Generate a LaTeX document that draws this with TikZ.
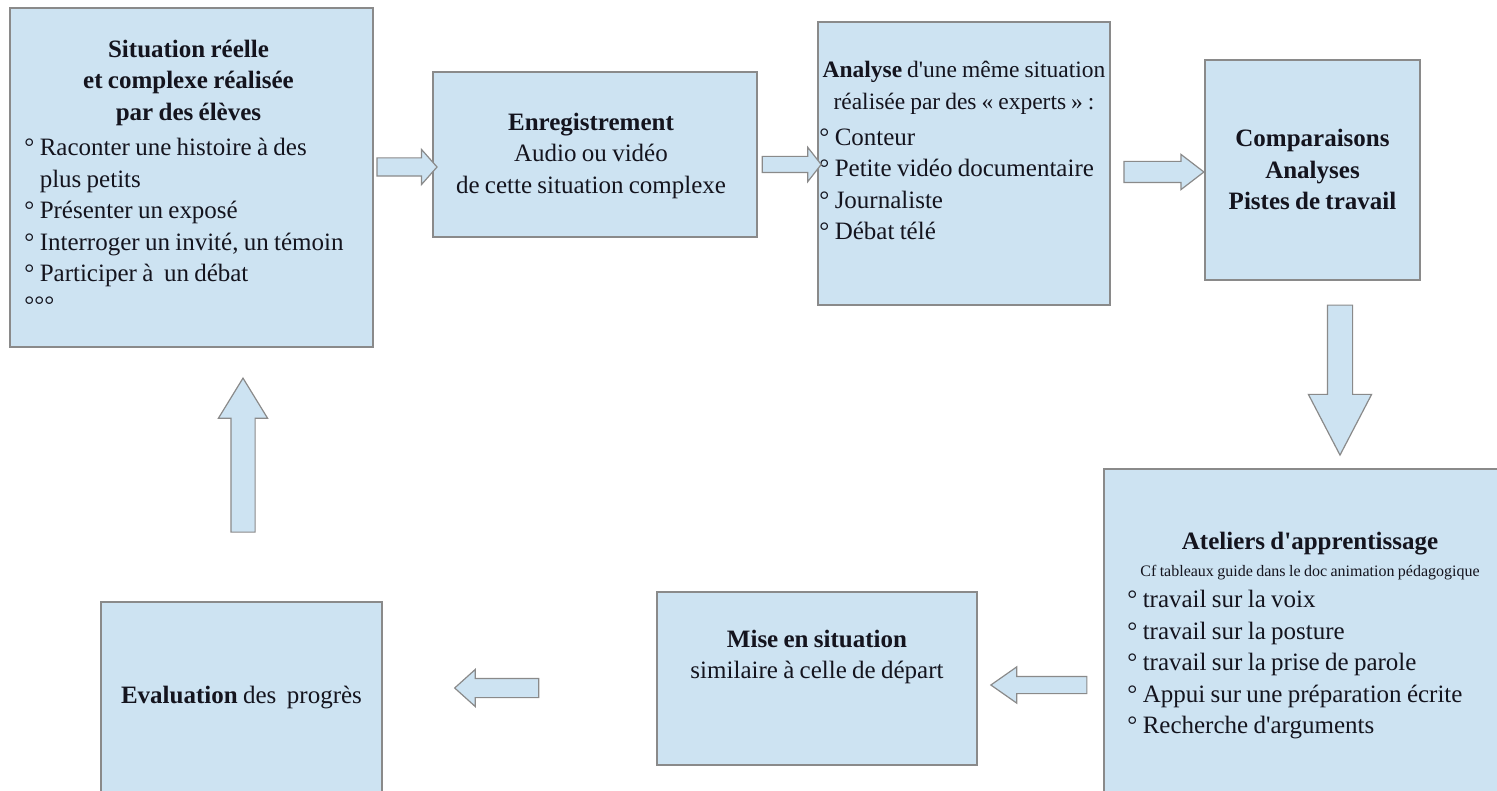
\documentclass[tikz,border=0pt]{standalone}
\usepackage{fontspec}
\setmainfont{Liberation Serif}[Ligatures=TeXOff, WordSpace=0.85]
\usetikzlibrary{positioning,shapes.arrows}

\definecolor{boxblue}{RGB}{205,227,242}
\definecolor{boxline}{RGB}{138,138,138}
\definecolor{inkdark}{RGB}{20,20,30}

\tikzset{
  stage/.style={draw=boxline, fill=boxblue, line width=1.5pt, inner sep=0pt},
  stagetext/.style={inner sep=0pt, text=inkdark, font=\fontsize{25}{31.5}\selectfont},
  blockarrow/.style={single arrow, draw=boxline, fill=boxblue, line width=1.2pt, inner xsep=0pt},
}

\begin{document}
\begin{tikzpicture}[x=1pt, y=-1pt]
    \useasboundingbox (0,0) rectangle (1497,791);
    \clip (0,0) rectangle (1497,791);

    % Top row of boxes
    \node[stage, minimum width=363pt, minimum height=339pt] (sit) at (191.5,177.5) {};
    \node[stage, minimum width=324pt, minimum height=165pt] (enr) at (595,154.5) {};
    \node[stage, minimum width=292pt, minimum height=283pt] (ana) at (964,163.5) {};
    \node[stage, minimum width=215pt, minimum height=220pt] (comp) at (1312.5,170) {};

    % Bottom row of boxes (some run off the page)
    \node[stage, minimum width=412pt, minimum height=360pt] (ate) at (1310,649) {};
    \node[stage, minimum width=320pt, minimum height=173pt] (mise) at (817,678.5) {};
    \node[stage, minimum width=281pt, minimum height=240pt] (eval) at (241.5,722) {};

    % Titles and lists
    \node[stagetext, align=center, below=32.5pt of sit.north, xshift=-3pt] (sit-title)
        {\textbf{Situation réelle}\\ \textbf{et complexe réalisée}\\ \textbf{par des élèves}};
    \node[stagetext, align=left, below right=131pt and 15pt of sit.north west] (sit-list)
        {° Raconter une histoire à des\\
         \phantom{°} plus petits\\
         ° Présenter un exposé\\
         ° Interroger un invité, un témoin\\
         ° Participer à~ un débat\\
         °°°};
    \node[stagetext, align=center, below=41.5pt of enr.north, xshift=-4pt] (enr-t)
        {\textbf{Enregistrement}\\ Audio ou vidéo\\ de cette situation complexe};
    \node[stagetext, align=center, font=\fontsize{23.5}{31.5}\selectfont, below=40pt of ana.north] (ana-title)
        {\textbf{Analyse} d'une même situation\\ réalisée par des « experts » :};
    \node[stagetext, align=left, below right=107pt and 2pt of ana.north west] (ana-list)
        {° Conteur\\
         ° Petite vidéo documentaire\\
         ° Journaliste\\
         ° Débat télé};
    \node[stagetext, align=center, below=70pt of comp.north] (comp-t)
        {\textbf{Comparaisons}\\ \textbf{Analyses}\\ \textbf{Pistes de travail}};
    \node[stagetext, align=center, below=64pt of ate.north] (ate-title)
        {\textbf{Ateliers d'apprentissage}\\[-4.5pt]
         {\fontsize{16}{20}\selectfont Cf tableaux guide dans le doc animation pédagogique}};
    \node[stagetext, align=left, below right=122pt and 24pt of ate.north west] (ate-list)
        {° travail sur la voix\\
         ° travail sur la posture\\
         ° travail sur la prise de parole\\
         ° Appui sur une préparation écrite\\
         ° Recherche d'arguments};
    \node[stagetext, align=center, below=38.5pt of mise.north] (mise-t)
        {\textbf{Mise en situation}\\ similaire à celle de départ};
    \node[stagetext, below=84.5pt of eval.north] (eval-t) {\textbf{Evaluation} des~ progrès};

    % Block arrows between the boxes
    \node[blockarrow, minimum height=60pt, minimum width=34pt, inner ysep=8.5pt,
        single arrow head extend=8.5pt, single arrow tip angle=97] (sit-enr) at (403,167) {};
    \node[blockarrow, minimum height=59pt, minimum width=33pt, inner ysep=7.5pt,
        single arrow head extend=9pt, single arrow tip angle=104] (enr-ana) at (788.5,164.5) {};
    \node[blockarrow, minimum height=80pt, minimum width=34pt, inner ysep=10pt,
        single arrow head extend=7pt, single arrow tip angle=75] (ana-comp) at (1157,172) {};
    \node[blockarrow, rotate=-90, minimum height=150pt, minimum width=62pt, inner ysep=12pt,
        single arrow head extend=19pt, single arrow tip angle=55] (comp-ate) at (1340,368) {};
    \node[blockarrow, rotate=180, minimum height=96pt, minimum width=35pt, inner ysep=8pt,
        single arrow head extend=9.5pt, single arrow tip angle=70] (ate-mise) at (1045,685) {};
    \node[blockarrow, rotate=180, minimum height=84pt, minimum width=36pt, inner ysep=9pt,
        single arrow head extend=9pt, single arrow tip angle=84] (mise-eval) at (502,688) {};
    \node[blockarrow, rotate=90, minimum height=154pt, minimum width=48pt, inner ysep=11.5pt,
        single arrow head extend=12.5pt, single arrow tip angle=63] (eval-sit) at (243,465) {};
\end{tikzpicture}
\end{document}
